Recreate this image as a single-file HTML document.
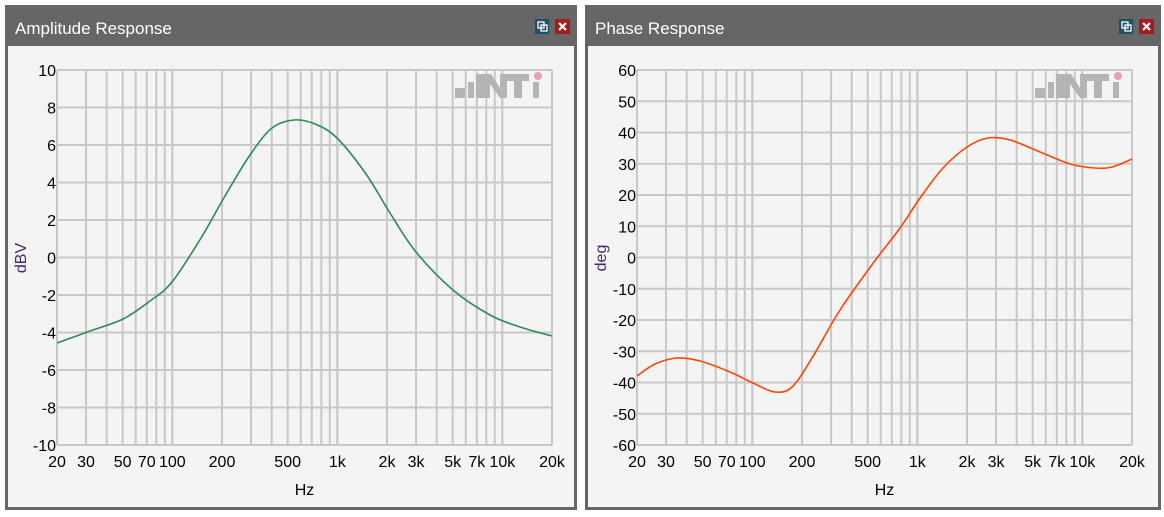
<!DOCTYPE html>
<html><head><meta charset="utf-8"><style>
body{margin:0;background:#fff;width:1164px;height:517px;overflow:hidden}
svg{display:block}
text{font-family:"Liberation Sans",sans-serif}
</style></head><body>
<svg id="s" width="1164" height="517" xmlns="http://www.w3.org/2000/svg"></svg>
<script>
const s=document.getElementById('s');let h='';
function panel(x0,x1,title,yl,ticks,tmin,tmax,pts,col,px){
  h+=`<rect x="${x0}" y="5" width="${x1-x0}" height="505" fill="#666"/>`;
  h+=`<rect x="${x0+3}" y="46" width="${x1-x0-6}" height="461" fill="#f4f4f4"/>`;
  h+=`<text x="${x0+10}" y="34" font-size="17" fill="#fff">${title}</text>`;
  const ix=x1-42;
  h+=`<rect x="${ix}" y="19" width="14" height="15" fill="#1f4f66"/><rect x="${ix+3}" y="22" width="6" height="6" fill="none" stroke="#fff" stroke-width="1.3"/><rect x="${ix+6}" y="25" width="6" height="6" fill="none" stroke="#fff" stroke-width="1.3"/>`;
  h+=`<rect x="${ix+20}" y="19" width="15" height="15" fill="#a51c1c"/><path d="M${ix+24} 23 l7 7 M${ix+31} 23 l-7 7" stroke="#fff" stroke-width="2.2"/>`;
  const L=px,R=px+495,T=70,B=445;
  const fx=f=>L+165*Math.log10(f/20);
  let fr=[];for(let d=10;d<=10000;d*=10)for(let k=1;k<=10;k++){let f=k*d;if(f>=20&&f<=20000)fr.push(f);}
  fr.forEach(f=>{const x=fx(f);h+=`<line x1="${x}" y1="${T}" x2="${x}" y2="${B}" stroke="#c8c8c8" stroke-width="2"/>`});
  const n=ticks.length;
  ticks.forEach((t,i)=>{const y=B-(t-tmin)/(tmax-tmin)*(B-T);h+=`<line x1="${L}" y1="${y}" x2="${R}" y2="${y}" stroke="#c8c8c8" stroke-width="2"/><text x="${L-1}" y="${y+6}" font-size="16" text-anchor="end" fill="#000">${t}</text>`});
  h+=`<g fill="#b4b4b4"><rect x="${R-97}" y="88" width="10" height="10"/><rect x="${R-84}" y="82" width="6" height="16"/><rect x="${R-76}" y="74" width="7" height="24"/><path d="M${R-69} 74 h8 l9 14 v-14 h7 v24 h-7 l-10 -14 v14 h-7z"/><rect x="${R-45}" y="74" width="22" height="7"/><rect x="${R-38}" y="74" width="8" height="24"/><rect x="${R-19}" y="82" width="6" height="16"/></g><circle cx="${R-14}" cy="76" r="4" fill="#e8a0b4"/>`;
  const xl=[[20,'20'],[30,'30'],[50,'50'],[70,'70'],[100,'100'],[200,'200'],[500,'500'],[1000,'1k'],[2000,'2k'],[3000,'3k'],[5000,'5k'],[7000,'7k'],[10000,'10k'],[20000,'20k']];
  xl.forEach(([f,l])=>{h+=`<text x="${fx(f)}" y="467" font-size="16" text-anchor="middle" fill="#000">${l}</text>`});
  h+=`<text x="${(L+R)/2}" y="495" font-size="16" text-anchor="middle" fill="#000">Hz</text>`;
  h+=`<text transform="translate(${x0+21},258) rotate(-90)" font-size="16" text-anchor="middle" fill="#4a2a6a">${yl}</text>`;
  let p=pts.map(q=>[q[0]+px-57,q[1]]);
  let d=`M${p[0][0]} ${p[0][1]}`;
  for(let i=0;i<p.length-1;i++){const a=p[Math.max(i-1,0)],b=p[i],c=p[i+1],e=p[Math.min(i+2,p.length-1)];
    d+=` C${b[0]+(c[0]-a[0])/6} ${b[1]+(c[1]-a[1])/6} ${c[0]-(e[0]-b[0])/6} ${c[1]-(e[1]-b[1])/6} ${c[0]} ${c[1]}`;}
  h+=`<path d="${d}" fill="none" stroke="${col}" stroke-width="1.6"/>`;
}
panel(5,577,'Amplitude Response','dBV',[10,8,6,4,2,0,-2,-4,-6,-8,-10],-10,10,
[[57,343],[90,331],[123,319],[150,301],[172,282],[201,238],[225,196],[250,155],[272,128],[294,120],[315,124],[337,138],[366,174],[390,213],[416,252],[453,290],[490,315],[520,327],[552,336]],'#2e8b57',57);
panel(585,1161,'Phase Response','deg',[60,50,40,30,20,10,0,-10,-20,-30,-40,-50,-60],-60,60,
[[57,376],[75,364],[97,358],[120,361],[150,372],[175,384],[195,392],[212,387],[232,358],[260,310],[294,262],[320,228],[340,198],[363,168],[387,147],[408,138],[430,140],[460,152],[490,164],[515,168],[532,167],[552,159]],'#ff4500',637);
s.innerHTML=h;
</script>
</body></html>
